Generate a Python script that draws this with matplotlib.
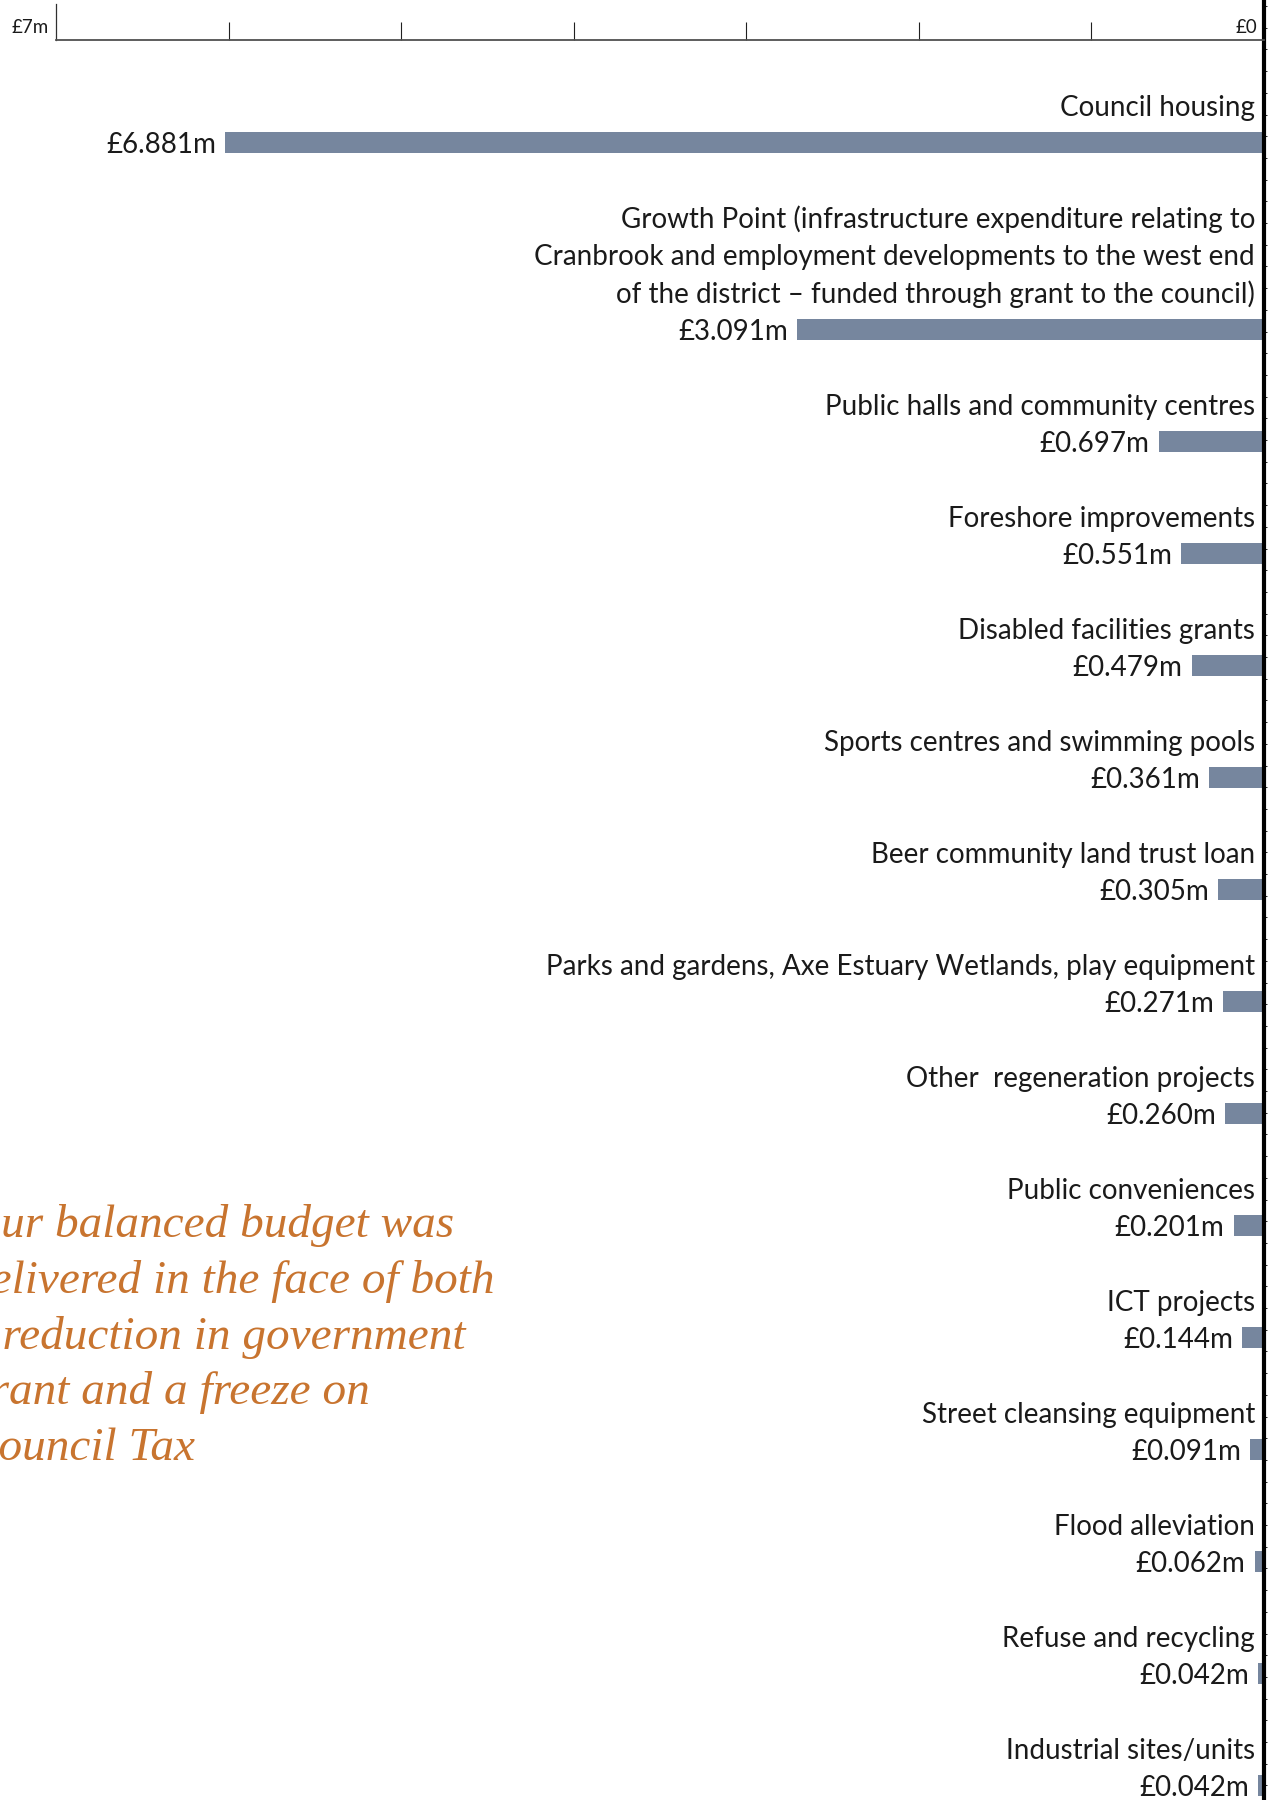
import numpy as np
import matplotlib
matplotlib.use('Agg')
import matplotlib.pyplot as plt

# capital spend by service, £m
labels = [
    'Council housing',
    'Growth Point (infrastructure expenditure relating to\n'
    'Cranbrook and employment developments to the west end\n'
    'of the district \u2013 funded through grant to the council)',
    'Public halls and community centres',
    'Foreshore improvements',
    'Disabled facilities grants',
    'Sports centres and swimming pools',
    'Beer community land trust loan',
    'Parks and gardens, Axe Estuary Wetlands, play equipment',
    'Other  regeneration projects',
    'Public conveniences',
    'ICT projects',
    'Street cleansing equipment',
    'Flood alleviation',
    'Refuse and recycling',
    'Industrial sites/units',
]
spend = [6.881, 3.091, 0.697, 0.551, 0.479, 0.361, 0.305, 0.271,
         0.260, 0.201, 0.144, 0.091, 0.062, 0.042, 0.042]

scale_ticks = [1, 2, 3, 4, 5, 6]
scale_max_label = '\u00a37m'
scale_zero_label = '\u00a30'

quote_lines = [
    'Our balanced budget was',
    'delivered in the face of both',
    'a reduction in government',
    'grant and a freeze on',
    'Council Tax',
]

bar_color = '#76869e'
quote_color = '#c8742f'
text_color = '#1a1a1a'

W, H = 1269, 1800
plt.rcParams['font.family'] = ['Lato', 'DejaVu Sans']

fig = plt.figure(figsize=(W / 100, H / 100), dpi=100)

# layout in pixels
left_px, zero_px = 56, 1264
first_row = 142.5
row_step = 112.0
line_step = 37.5
label_gap = 26.5

# row centres: each extra label line pushes the row down
ys = []
y = first_row
for i, lab in enumerate(labels):
    if i > 0:
        y += row_step + (lab.count('\n')) * line_step
    ys.append(y)

ax = fig.add_axes([left_px / W, 0, (zero_px - left_px) / W, 1])
ax.set_xlim(8, 0)
ax.set_ylim(H, 0)
ax.barh(ys, spend, height=20.5, color=bar_color)

fs = 20
for yc, lab, v in zip(ys, labels, spend):
    ax.annotate(f'\u00a3{v:.3f}m', xy=(v, yc), xytext=(-6.5, -7.5),
                textcoords='offset points', ha='right', va='baseline',
                fontsize=fs, color=text_color)
    lines = lab.split('\n')
    for k, line in enumerate(reversed(lines)):
        ax.annotate(line, xy=(0, yc - label_gap - k * line_step),
                    xytext=(-6.5, 0), textcoords='offset points',
                    ha='right', va='baseline', fontsize=fs, color=text_color)

for s in ['top', 'bottom', 'left']:
    ax.spines[s].set_visible(False)
ax.spines['right'].set_linewidth(3)
ax.spines['right'].set_color('black')
ax.set_xticks([])
ax.yaxis.tick_right()
ax.set_yticks(np.arange(6, H, 21.7))
ax.tick_params(axis='y', length=2.5, width=0.6, labelright=False, color='black')

# scale bar along the top
sc = fig.add_axes([left_px / W, 1 - 40 / H, (zero_px - left_px) / W, 36 / H])
sc.set_xlim(7, 0)
sc.set_ylim(0, 1)
sc.patch.set_alpha(0)
sc.spines['top'].set_visible(False)
sc.spines['right'].set_visible(False)
sc.spines['bottom'].set_color('#505050')
sc.spines['bottom'].set_linewidth(1.3)
sc.spines['left'].set_color('#303030')
sc.spines['left'].set_linewidth(0.9)
sc.set_xticks(scale_ticks)
sc.set_xticklabels([])
sc.tick_params(axis='x', direction='in', length=13, width=0.8, color='#202020')
sc.set_yticks([])
sc.annotate(scale_max_label, xy=(7, 0.35), xytext=(-5, 0), textcoords='offset points',
            ha='right', va='center', fontsize=13.5, color=text_color)
sc.annotate(scale_zero_label, xy=(0, 0.35), xytext=(-5, 0), textcoords='offset points',
            ha='right', va='center', fontsize=13.5, color=text_color)

# pull quote, running off the left edge
quote_x = -33
quote_base = 1237
quote_step = 55.8
for k, line in enumerate(quote_lines):
    fig.text(quote_x / W, 1 - (quote_base + k * quote_step) / H, line,
             ha='left', va='baseline', fontsize=34, style='italic',
             family=['Liberation Serif', 'DejaVu Serif'], color=quote_color)

fig.savefig('out.png', dpi=100)
